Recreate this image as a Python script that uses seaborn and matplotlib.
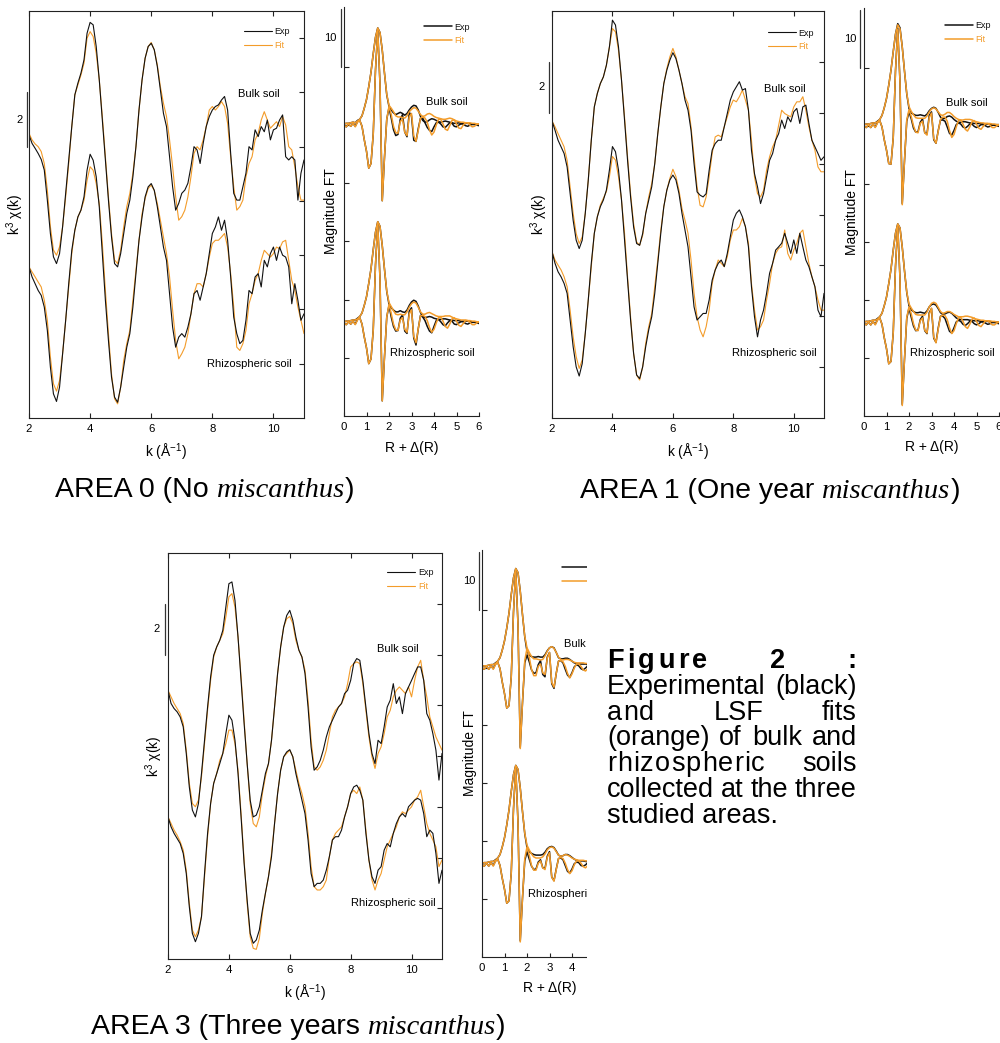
import numpy as np
import seaborn as sns
import matplotlib.pyplot as plt
import matplotlib.transforms as mtrans
from matplotlib.patches import Rectangle

k = np.round(np.arange(2.0, 11.01, 0.1), 1)
r = np.round(np.arange(0.0, 6.01, 0.1), 1)

# ---- k-space, k^3 chi(k) (one value every 0.1 A^-1, from 2 to 11) ----
a0_bulk_exp = [0.43, 0.12, -0.06, -0.25, -0.47, -0.86, -1.97, -3.20, -4.06, -4.31,
               -3.94, -2.95, -1.72, -0.49, 0.74, 1.91, 2.34, 2.71, 3.20, 4.18,
               4.58, 4.49, 3.69, 2.46, 0.98, -0.49, -1.97, -3.32, -4.31, -4.43,
               -3.94, -3.20, -2.46, -1.97, -1.11, 0.00, 1.35, 2.46, 3.26, 3.69,
               3.81, 3.57, 2.95, 2.09, 1.23, 0.74, -0.37, -1.48, -2.34, -2.09,
               -1.72, -1.60, -1.35, -0.74, 0.00, -0.12, -0.62, 0.12, 0.74, 1.11,
               1.35, 1.48, 1.54, 1.72, 1.85, 1.35, -0.25, -1.72, -1.97, -1.97,
               -1.48, -0.98, 0.00, -0.12, 0.62, 0.37, 0.74, 0.55, 0.98, 0.25,
               0.62, 0.68, 0.98, 1.17, -0.37, -0.49, -0.37, -0.49, -1.97, -0.98,
               -0.49]
a0_bulk_fit = [0.49, 0.25, 0.10, 0.00, -0.18, -0.62, -1.60, -2.95, -3.81, -4.00,
               -3.69, -2.95, -1.85, -0.62, 0.74, 1.91, 2.28, 2.64, 3.08, 4.00,
               4.24, 4.06, 3.44, 2.46, 1.11, -0.37, -1.85, -3.20, -4.18, -4.31,
               -3.81, -2.95, -2.21, -1.72, -0.98, 0.00, 1.35, 2.46, 3.26, 3.69,
               3.84, 3.57, 3.01, 2.21, 1.60, 1.11, 0.25, -0.74, -1.85, -2.71,
               -2.58, -2.34, -1.85, -1.11, -0.25, 0.00, -0.12, 0.25, 0.74, 1.35,
               1.48, 1.35, 1.48, 1.66, 1.48, 0.86, -0.37, -1.48, -2.34, -2.21,
               -1.97, -1.11, -0.62, -0.37, 0.25, 0.49, 0.98, 1.29, 0.98, 0.68,
               0.80, 0.92, 0.74, 1.11, 0.80, 0.00, -0.12, -0.74, -1.48, -1.97,
               -1.97]
a0_rhizo_exp = [0.57, 0.20, -0.05, -0.30, -0.48, -0.91, -1.77, -3.12, -4.11, -4.39,
                -3.86, -2.63, -1.40, -0.05, 1.18, 1.92, 2.41, 2.66, 3.15, 4.13,
                4.72, 4.50, 3.89, 2.78, 1.06, -0.66, -2.14, -3.49, -4.23, -4.42,
                -3.86, -3.12, -2.39, -1.89, -0.91, 0.32, 1.55, 2.41, 3.15, 3.52,
                3.64, 3.39, 2.78, 2.04, 1.30, 0.81, -0.42, -1.65, -2.39, -2.02,
                -1.89, -2.02, -1.65, -1.16, -0.42, -0.30, -0.66, -0.17, 0.32, 1.06,
                1.80, 2.04, 2.41, 1.92, 2.29, 1.55, 0.20, -1.28, -1.89, -2.26,
                -2.14, -1.40, -0.30, -0.42, 0.20, 0.32, -0.17, 0.81, 0.57, 1.06,
                1.30, 0.81, 1.30, 1.00, 0.93, 0.57, -0.79, -0.05, -0.66, -1.40,
                -1.16]
a0_rhizo_fit = [0.57, 0.38, 0.20, 0.01, -0.17, -0.66, -1.40, -2.76, -3.74, -4.01,
                -3.62, -2.63, -1.40, -0.17, 1.06, 1.92, 2.41, 2.66, 3.03, 3.76,
                4.26, 4.13, 3.64, 2.90, 1.43, -0.30, -1.89, -3.37, -4.29, -4.48,
                -3.86, -2.88, -2.26, -1.77, -0.66, 0.44, 1.55, 2.53, 3.09, 3.46,
                3.58, 3.39, 2.90, 2.29, 1.67, 1.06, 0.20, -1.03, -2.14, -2.82,
                -2.63, -2.39, -1.89, -1.16, -0.42, -0.05, -0.05, -0.17, 0.32, 0.93,
                1.43, 1.55, 1.55, 1.67, 1.80, 1.30, 0.32, -0.91, -2.39, -2.51,
                -2.26, -1.77, -0.79, -0.42, 0.07, 0.32, 0.81, 1.18, 1.06, 0.93,
                1.06, 1.30, 1.24, 1.49, 1.55, 0.81, 0.07, -0.30, -0.91, -1.40,
                -1.89]

a1_bulk_exp = [0.68, 0.31, -0.08, -0.34, -0.60, -1.13, -2.18, -3.23, -4.01, -4.34,
               -4.01, -2.96, -1.65, -0.08, 1.23, 1.76, 2.15, 2.41, 2.87, 3.59,
               4.64, 4.45, 3.59, 2.28, 0.71, -0.87, -2.31, -3.49, -4.14, -4.21,
               -3.75, -2.96, -2.44, -1.91, -1.00, 0.18, 1.23, 2.15, 2.68, 3.07,
               3.36, 3.13, 2.68, 2.15, 1.50, 1.10, 0.31, -1.00, -2.11, -2.24,
               -2.31, -2.18, -1.26, -0.47, -0.21, -0.08, -0.08, 0.45, 0.97, 1.50,
               1.82, 2.02, 2.22, 1.89, 1.95, 1.10, -0.47, -1.39, -1.91, -2.57,
               -2.18, -1.52, -0.87, -0.60, -0.08, 0.18, 0.71, 0.38, 0.84, 0.64,
               1.04, 1.17, 0.58, 1.23, 1.30, 0.58, -0.08, -0.34, -0.60, -0.87,
               -0.73]
a1_bulk_fit = [0.68, 0.45, 0.18, -0.08, -0.34, -0.87, -1.92, -2.96, -3.75, -4.14,
               -3.88, -2.96, -1.65, -0.08, 1.23, 1.76, 2.15, 2.41, 2.87, 3.59,
               4.31, 4.18, 3.46, 2.28, 0.84, -0.73, -2.18, -3.36, -4.08, -4.21,
               -3.82, -2.96, -2.31, -1.78, -1.00, 0.18, 1.23, 2.15, 2.74, 3.20,
               3.53, 3.20, 2.68, 2.15, 1.63, 1.36, 0.45, -0.73, -1.91, -2.64,
               -2.70, -2.31, -1.52, -0.60, 0.05, 0.12, 0.05, 0.45, 0.84, 1.23,
               1.50, 1.43, 1.63, 1.89, 1.50, 1.10, -0.08, -1.52, -2.18, -2.31,
               -2.05, -1.26, -0.73, -0.34, -0.08, 0.51, 1.10, 0.97, 0.90, 0.84,
               1.23, 1.43, 1.43, 1.63, 1.10, 0.45, -0.08, -0.47, -1.13, -1.32,
               -1.32]
a1_rhizo_exp = [0.54, 0.08, -0.25, -0.45, -0.71, -1.10, -2.15, -3.20, -3.99, -4.35,
                -3.86, -2.68, -1.36, 0.08, 1.26, 1.91, 2.31, 2.57, 2.96, 3.75,
                4.67, 4.47, 3.75, 2.57, 1.00, -0.58, -2.15, -3.46, -4.31, -4.45,
                -3.99, -3.20, -2.54, -2.02, -1.10, 0.08, 1.26, 2.31, 2.96, 3.36,
                3.55, 3.36, 2.83, 2.05, 1.39, 0.73, -0.45, -1.63, -2.15, -2.02,
                -1.89, -1.89, -1.36, -0.58, -0.18, 0.08, 0.21, -0.05, 0.47, 1.13,
                1.78, 2.05, 2.18, 1.91, 1.52, 0.73, -0.84, -2.02, -2.81, -2.15,
                -1.76, -1.10, -0.31, 0.08, 0.60, 0.73, 0.87, 1.26, 0.87, 0.47,
                1.00, 0.47, 1.26, 0.73, 0.21, -0.05, -0.45, -0.84, -1.76, -2.02,
                -1.10]
a1_rhizo_fit = [0.54, 0.21, 0.01, -0.18, -0.45, -0.84, -1.76, -2.81, -3.59, -4.05,
                -3.72, -2.68, -1.36, -0.05, 1.26, 1.91, 2.37, 2.64, 2.90, 3.49,
                4.28, 4.14, 3.49, 2.57, 1.26, -0.45, -2.02, -3.46, -4.31, -4.51,
                -3.99, -3.07, -2.41, -1.89, -0.84, 0.21, 1.39, 2.31, 2.96, 3.42,
                3.78, 3.49, 2.96, 2.24, 1.78, 1.26, 0.21, -1.10, -2.02, -2.54,
                -2.81, -2.41, -1.76, -0.71, -0.18, 0.21, 0.08, -0.05, 0.34, 1.00,
                1.39, 1.39, 1.52, 1.85, 1.52, 0.87, -0.71, -1.76, -2.54, -2.41,
                -2.15, -1.36, -0.71, 0.08, 0.47, 0.67, 0.73, 1.39, 0.47, 0.21,
                0.60, 0.87, 1.26, 1.39, 0.73, 0.08, -0.45, -0.84, -1.36, -1.76,
                -1.76]

a3_bulk_exp = [0.59, 0.07, -0.13, -0.26, -0.46, -0.85, -1.90, -3.22, -4.13, -4.40,
               -3.87, -2.69, -1.38, -0.07, 1.12, 1.97, 2.30, 2.56, 2.95, 3.87,
               4.79, 4.86, 4.13, 2.69, 0.98, -0.72, -2.30, -3.74, -4.40, -4.33,
               -4.00, -3.35, -2.69, -2.30, -1.38, -0.07, 1.25, 2.30, 3.08, 3.54,
               3.74, 3.35, 2.69, 2.17, 1.90, 1.25, -0.07, -1.64, -2.56, -2.43,
               -2.17, -1.77, -1.25, -0.85, -0.59, -0.33, -0.07, 0.07, 0.46, 0.59,
               0.98, 1.64, 1.84, 1.77, 0.98, -0.07, -1.12, -1.90, -2.30, -1.38,
               -1.51, -0.85, -0.07, 0.20, 0.85, 0.07, 0.33, -0.33, 0.46, 0.72,
               0.98, 1.25, 1.51, 1.51, 0.98, -0.33, -0.59, -1.12, -1.77, -2.95,
               -1.90]
a3_bulk_fit = [0.59, 0.33, 0.07, -0.13, -0.33, -0.72, -1.77, -3.08, -3.87, -4.00,
               -3.74, -2.82, -1.51, -0.20, 0.98, 1.90, 2.30, 2.56, 2.82, 3.48,
               4.27, 4.40, 3.87, 2.69, 1.12, -0.59, -2.30, -3.87, -4.66, -4.79,
               -4.40, -3.48, -2.82, -2.30, -1.38, -0.07, 1.25, 2.30, 3.08, 3.41,
               3.50, 3.22, 2.56, 2.17, 1.90, 1.38, 0.20, -1.38, -2.43, -2.56,
               -2.43, -2.17, -1.77, -1.12, -0.46, -0.20, -0.07, 0.07, 0.33, 0.85,
               1.51, 1.64, 1.71, 1.64, 0.85, -0.20, -1.25, -2.03, -2.49, -1.90,
               -1.64, -1.12, -0.46, -0.20, 0.33, 0.59, 0.72, 0.59, 0.46, 0.72,
               0.33, 0.98, 1.51, 1.77, 0.98, 0.33, -0.46, -0.85, -1.25, -1.51,
               -1.77]
a3_rhizo_exp = [0.60, 0.21, -0.05, -0.25, -0.45, -0.84, -1.63, -2.94, -3.99, -4.32,
                -3.99, -3.33, -1.63, -0.05, 1.13, 1.92, 2.31, 2.70, 3.10, 3.88,
                4.61, 4.41, 3.62, 2.31, 0.60, -1.23, -2.68, -3.99, -4.38, -4.25,
                -3.86, -3.07, -2.41, -1.76, -0.97, 0.34, 1.52, 2.44, 2.97, 3.16,
                3.25, 2.97, 2.31, 1.78, 1.26, 0.73, -0.31, -1.63, -2.15, -2.02,
                -2.02, -1.89, -1.50, -0.97, -0.31, -0.18, -0.18, 0.08, 0.60, 1.00,
                1.52, 1.78, 1.85, 1.65, 1.26, -0.05, -1.10, -1.76, -2.02, -1.50,
                -1.36, -0.71, -0.45, -0.58, -0.05, 0.34, 0.60, 0.73, 0.60, 1.00,
                1.13, 1.26, 1.33, 1.26, 0.73, -0.18, 0.08, -0.05, -0.84, -2.02,
                -1.50]
a3_rhizo_fit = [0.60, 0.34, 0.08, -0.12, -0.38, -0.71, -1.50, -2.81, -3.86, -4.12,
                -3.86, -3.33, -1.76, -0.18, 1.13, 1.92, 2.31, 2.83, 3.10, 3.49,
                4.02, 4.02, 3.49, 2.44, 0.73, -1.10, -2.81, -4.12, -4.58, -4.62,
                -4.19, -3.20, -2.41, -1.76, -0.84, 0.34, 1.52, 2.44, 2.97, 3.10,
                3.23, 2.97, 2.44, 1.92, 1.52, 1.00, -0.05, -1.36, -2.15, -2.28,
                -2.28, -2.15, -1.89, -0.97, -0.31, -0.05, 0.08, 0.21, 0.60, 1.00,
                1.52, 1.65, 1.52, 1.78, 1.26, 0.08, -1.10, -1.89, -2.28, -1.89,
                -1.63, -1.10, -0.58, -0.31, -0.05, 0.21, 0.60, 0.80, 0.73, 0.87,
                1.00, 1.26, 1.39, 1.65, 1.00, 0.34, -0.05, -0.31, -0.58, -1.36,
                -1.10]

# ---- R-space, Fourier transform: magnitude and imaginary part (every 0.1 A) ----
a0_bulk_mag_exp = [0.2, 0.3, 0.3, 0.4, 0.5, 0.4, 0.8, 1.0, 1.6, 2.9,
                   4.4, 6.6, 9.1, 12.3, 15.1, 16.7, 15.9, 12.9, 8.9, 5.2,
                   3.2, 2.6, 2.1, 1.8, 2.0, 2.2, 2.0, 1.7, 2.0, 2.6,
                   3.1, 3.4, 3.3, 2.6, 1.5, 0.8, 0.5, 0.6, 0.9, 1.1,
                   1.0, 0.8, 0.6, 0.5, 0.6, 0.7, 0.6, 0.5, 0.4, 0.3,
                   0.3, 0.4, 0.3, 0.2, 0.3, 0.3, 0.2, 0.2, 0.2, 0.1,
                   0.1]
a0_bulk_mag_fit = [0.2, 0.3, 0.3, 0.4, 0.5, 0.4, 0.7, 1.0, 1.6, 2.9,
                   4.4, 6.6, 9.1, 12.3, 15.1, 16.7, 15.9, 12.9, 8.9, 5.3,
                   3.4, 2.9, 2.3, 1.6, 1.4, 1.4, 1.3, 1.2, 1.6, 2.3,
                   2.7, 3.0, 2.9, 2.4, 1.8, 1.5, 1.6, 1.9, 2.0, 1.8,
                   1.5, 1.3, 1.2, 1.1, 1.0, 1.0, 1.1, 1.2, 1.1, 0.9,
                   0.7, 0.6, 0.5, 0.5, 0.4, 0.4, 0.4, 0.3, 0.3, 0.2,
                   0.2]
a0_bulk_im_exp = [0.0, -0.3, 0.2, -0.2, 0.3, -0.2, 0.6, 0.8, -0.2, -2.5,
                  -4.5, -7.4, -6.6, -1.5, 9.5, 16.3, 7.0, -13.0, -5.5, 1.0,
                  3.0, 1.2, -0.8, -1.8, -1.6, 1.0, 1.8, -1.2, -2.0, 2.2,
                  1.6, -2.6, -2.8, -0.6, 1.2, 1.2, 0.4, -0.4, -0.9, -1.1,
                  -0.3, 0.4, 0.5, 0.2, -0.3, -0.4, 0.0, 0.4, 0.3, -0.2,
                  -0.3, 0.0, 0.2, 0.2, -0.1, -0.2, 0.0, 0.1, 0.1, 0.0,
                  -0.1]
a0_bulk_im_fit = [0.0, -0.3, 0.2, -0.2, 0.3, -0.3, 0.5, 0.8, -0.2, -2.5,
                  -4.5, -7.4, -6.6, -1.5, 9.5, 16.3, 7.0, -13.0, -5.5, 1.0,
                  3.2, 1.8, -0.2, -1.3, -1.4, 0.6, 1.0, -1.2, -1.8, 1.4,
                  2.0, -1.8, -2.8, -0.9, 1.2, 1.4, 1.2, 0.5, -0.8, -1.7,
                  -1.2, 0.0, 1.0, 1.0, 0.2, -0.7, -0.9, -0.1, 0.8, 0.9,
                  0.2, -0.5, -0.6, 0.0, 0.4, 0.4, 0.0, -0.3, -0.2, 0.1,
                  0.2]
a0_rhizo_mag_exp = [0.2, 0.3, 0.3, 0.4, 0.5, 0.5, 0.8, 1.1, 1.7, 3.0,
                    4.5, 6.8, 9.3, 12.6, 15.6, 17.4, 16.6, 13.3, 9.2, 5.4,
                    3.2, 2.6, 2.2, 1.9, 1.9, 2.1, 1.9, 1.8, 2.2, 3.0,
                    3.6, 3.9, 3.7, 2.9, 1.8, 1.1, 0.9, 1.0, 1.1, 1.0,
                    0.8, 0.7, 0.6, 0.6, 0.7, 0.7, 0.6, 0.5, 0.5, 0.4,
                    0.4, 0.4, 0.3, 0.3, 0.3, 0.3, 0.2, 0.2, 0.2, 0.2,
                    0.1]
a0_rhizo_mag_fit = [0.2, 0.3, 0.3, 0.4, 0.5, 0.5, 0.7, 1.1, 1.7, 3.0,
                    4.5, 6.8, 9.3, 12.6, 15.6, 17.4, 16.6, 13.3, 9.2, 5.5,
                    3.5, 2.8, 2.1, 1.5, 1.4, 1.5, 1.4, 1.4, 1.9, 2.7,
                    3.3, 3.6, 3.4, 2.7, 1.9, 1.5, 1.5, 1.7, 1.8, 1.6,
                    1.4, 1.2, 1.1, 1.1, 1.1, 1.2, 1.2, 1.2, 1.0, 0.8,
                    0.7, 0.6, 0.5, 0.5, 0.5, 0.4, 0.4, 0.3, 0.3, 0.2,
                    0.2]
a0_rhizo_im_exp = [0.0, -0.3, 0.2, -0.2, 0.3, -0.2, 0.6, 0.9, -0.2, -2.4,
                   -4.3, -7.0, -6.2, -1.2, 10.0, 17.0, 7.5, -13.4, -5.8, 1.0,
                   3.0, 1.0, -0.6, -1.4, -1.3, 0.8, 1.4, -1.4, -1.8, 2.0,
                   2.6, -2.6, -3.8, -1.0, 1.3, 1.0, 0.4, -0.6, -1.4, -1.7,
                   -0.6, 0.4, 0.6, 0.2, -0.3, -0.5, 0.0, 0.4, 0.3, -0.2,
                   -0.3, 0.0, 0.2, 0.2, -0.1, -0.2, 0.0, 0.1, 0.1, 0.0,
                   -0.1]
a0_rhizo_im_fit = [0.0, -0.3, 0.2, -0.2, 0.3, -0.3, 0.5, 0.9, -0.2, -2.4,
                   -4.3, -7.0, -6.2, -1.2, 10.0, 17.0, 7.5, -13.4, -5.8, 1.0,
                   3.2, 1.6, -0.2, -1.2, -1.3, 0.5, 0.9, -1.1, -1.6, 1.5,
                   2.3, -2.3, -3.4, -1.0, 1.2, 1.3, 1.1, 0.4, -0.8, -1.6,
                   -1.1, 0.0, 0.9, 1.0, 0.3, -0.6, -0.9, -0.2, 0.7, 0.9,
                   0.3, -0.4, -0.6, -0.1, 0.4, 0.4, 0.1, -0.3, -0.3, 0.0,
                   0.2]

a1_bulk_mag_exp = [0.2, 0.3, 0.3, 0.4, 0.5, 0.5, 0.8, 1.1, 1.8, 3.1,
                   4.7, 7.0, 9.6, 12.8, 15.8, 17.6, 16.9, 13.6, 9.4, 5.5,
                   3.0, 2.2, 2.0, 1.8, 1.8, 1.9, 1.8, 1.7, 2.0, 2.6,
                   3.0, 3.2, 3.0, 2.3, 1.5, 1.2, 1.3, 1.6, 1.7, 1.5,
                   1.1, 0.8, 0.6, 0.6, 0.7, 0.7, 0.6, 0.5, 0.5, 0.4,
                   0.4, 0.4, 0.4, 0.3, 0.3, 0.3, 0.3, 0.2, 0.2, 0.2,
                   0.2]
a1_bulk_mag_fit = [0.2, 0.3, 0.3, 0.4, 0.5, 0.5, 0.7, 1.1, 1.8, 3.1,
                   4.7, 7.0, 9.6, 12.8, 15.8, 17.4, 16.7, 13.6, 9.4, 5.6,
                   3.3, 2.5, 1.9, 1.4, 1.3, 1.3, 1.3, 1.3, 1.7, 2.4,
                   2.9, 3.1, 2.9, 2.4, 1.9, 1.8, 2.0, 2.3, 2.3, 2.0,
                   1.6, 1.3, 1.1, 1.0, 1.0, 1.1, 1.1, 1.1, 1.0, 0.8,
                   0.7, 0.6, 0.5, 0.5, 0.4, 0.4, 0.4, 0.3, 0.3, 0.2,
                   0.2]
a1_bulk_im_exp = [0.0, -0.3, 0.2, -0.3, 0.3, -0.2, 0.6, 0.9, -0.2, -2.4,
                  -4.2, -6.5, -6.6, -2.0, 9.5, 16.8, 7.5, -13.4, -6.0, 0.8,
                  2.4, 1.2, -0.4, -1.1, -1.0, 0.6, 1.2, -1.2, -1.4, 1.8,
                  2.4, -2.4, -3.0, -0.8, 1.0, 1.0, 0.8, -0.2, -1.3, -1.6,
                  -0.8, 0.2, 0.5, 0.3, -0.2, -0.4, -0.1, 0.3, 0.3, -0.1,
                  -0.3, -0.1, 0.2, 0.2, 0.0, -0.2, -0.1, 0.1, 0.1, 0.0,
                  -0.1]
a1_bulk_im_fit = [0.0, -0.3, 0.2, -0.3, 0.3, -0.3, 0.5, 0.9, -0.2, -2.4,
                  -4.2, -6.5, -6.6, -2.0, 9.5, 16.6, 7.5, -13.6, -6.0, 1.0,
                  2.8, 1.6, 0.0, -1.1, -1.2, 0.4, 0.8, -1.2, -1.6, 1.4,
                  2.2, -2.2, -3.0, -0.9, 1.1, 1.5, 1.5, 0.8, -0.8, -2.0,
                  -1.5, -0.2, 0.9, 1.0, 0.3, -0.6, -0.9, -0.2, 0.7, 0.9,
                  0.3, -0.4, -0.6, -0.1, 0.4, 0.4, 0.1, -0.3, -0.3, 0.0,
                  0.2]
a1_rhizo_mag_exp = [0.2, 0.3, 0.3, 0.4, 0.5, 0.5, 0.8, 1.1, 1.7, 3.0,
                    4.5, 6.8, 9.3, 12.6, 15.5, 17.1, 16.4, 13.1, 9.0, 5.3,
                    3.0, 2.3, 2.0, 1.8, 1.8, 1.9, 1.8, 1.7, 2.1, 2.8,
                    3.2, 3.3, 3.1, 2.5, 1.8, 1.5, 1.6, 1.8, 1.9, 1.7,
                    1.3, 0.9, 0.7, 0.6, 0.6, 0.6, 0.6, 0.5, 0.5, 0.4,
                    0.4, 0.4, 0.3, 0.3, 0.3, 0.3, 0.2, 0.2, 0.2, 0.2,
                    0.2]
a1_rhizo_mag_fit = [0.2, 0.3, 0.3, 0.4, 0.5, 0.5, 0.7, 1.1, 1.7, 3.0,
                    4.5, 6.8, 9.3, 12.6, 15.5, 17.1, 16.4, 13.1, 9.0, 5.4,
                    3.3, 2.6, 2.0, 1.5, 1.4, 1.4, 1.4, 1.4, 1.9, 2.8,
                    3.4, 3.6, 3.4, 2.7, 2.0, 1.7, 1.8, 2.0, 2.0, 1.8,
                    1.5, 1.3, 1.1, 1.1, 1.1, 1.2, 1.2, 1.1, 1.0, 0.8,
                    0.7, 0.6, 0.5, 0.5, 0.4, 0.4, 0.4, 0.3, 0.3, 0.2,
                    0.2]
a1_rhizo_im_exp = [0.0, -0.3, 0.2, -0.3, 0.3, -0.2, 0.6, 0.9, -0.2, -2.5,
                   -4.4, -7.0, -6.6, -1.6, 9.8, 16.8, 7.6, -14.0, -6.2, 0.8,
                   2.6, 1.0, -0.5, -1.3, -1.2, 0.6, 1.2, -1.3, -1.8, 1.8,
                   2.5, -2.6, -3.3, -0.8, 1.2, 1.2, 0.8, -0.3, -1.4, -1.7,
                   -0.8, 0.2, 0.5, 0.3, -0.2, -0.4, -0.1, 0.3, 0.3, -0.1,
                   -0.3, -0.1, 0.2, 0.2, 0.0, -0.2, -0.1, 0.1, 0.1, 0.0,
                   -0.1]
a1_rhizo_im_fit = [0.0, -0.3, 0.2, -0.3, 0.3, -0.3, 0.5, 0.9, -0.2, -2.5,
                   -4.4, -7.0, -6.6, -1.6, 9.8, 16.8, 7.6, -14.2, -6.2, 1.0,
                   2.8, 1.6, -0.1, -1.2, -1.3, 0.4, 0.9, -1.2, -1.7, 1.5,
                   2.6, -2.4, -3.4, -1.0, 1.1, 1.4, 1.3, 0.6, -0.8, -1.8,
                   -1.3, -0.1, 0.9, 1.0, 0.3, -0.6, -0.9, -0.2, 0.7, 0.9,
                   0.3, -0.4, -0.6, -0.1, 0.4, 0.4, 0.1, -0.3, -0.3, 0.0,
                   0.2]

a3_bulk_mag_exp = [0.2, 0.3, 0.3, 0.4, 0.5, 0.5, 0.8, 1.1, 1.7, 3.0,
                   4.6, 6.8, 9.4, 12.6, 15.5, 17.1, 16.4, 13.2, 9.1, 5.3,
                   2.8, 2.1, 1.9, 1.8, 1.8, 1.9, 1.8, 1.8, 2.2, 2.9,
                   3.4, 3.6, 3.4, 2.6, 1.7, 1.5, 1.5, 1.6, 1.6, 1.4,
                   1.1, 0.8, 0.7, 0.6, 0.6, 0.6, 0.6, 0.5, 0.5, 0.4,
                   0.4, 0.4, 0.3, 0.3, 0.3, 0.3, 0.2, 0.2, 0.2, 0.2,
                   0.2]
a3_bulk_mag_fit = [0.2, 0.3, 0.3, 0.4, 0.5, 0.5, 0.7, 1.1, 1.7, 3.0,
                   4.6, 6.8, 9.4, 12.6, 15.5, 17.1, 16.4, 13.2, 9.1, 5.4,
                   3.4, 2.6, 1.9, 1.5, 1.5, 1.4, 1.3, 1.4, 2.0, 2.8,
                   3.4, 3.6, 3.3, 2.6, 1.8, 1.4, 1.3, 1.4, 1.4, 1.3,
                   1.1, 0.9, 0.8, 0.8, 0.8, 0.8, 0.7, 0.7, 0.6, 0.5,
                   0.5, 0.4, 0.4, 0.4, 0.3, 0.3, 0.3, 0.2, 0.2, 0.2,
                   0.2]
a3_bulk_im_exp = [0.0, -0.3, 0.2, -0.3, 0.3, -0.2, 0.6, 0.9, -0.2, -2.5,
                  -4.5, -7.0, -6.6, -1.6, 9.6, 16.8, 7.4, -13.8, -6.0, 0.8,
                  2.2, 1.0, -0.4, -1.0, -0.9, 0.5, 1.2, -1.2, -1.6, 1.8,
                  2.6, -2.8, -3.6, -1.0, 1.1, 1.2, 0.8, -0.3, -1.3, -1.7,
                  -0.9, 0.1, 0.5, 0.3, -0.2, -0.4, -0.1, 0.3, 0.3, -0.1,
                  -0.3, -0.1, 0.2, 0.2, 0.0, -0.2, -0.1, 0.1, 0.1, 0.0,
                  -0.1]
a3_bulk_im_fit = [0.0, -0.3, 0.2, -0.3, 0.3, -0.3, 0.5, 0.9, -0.2, -2.5,
                  -4.5, -7.0, -6.6, -1.6, 9.6, 16.8, 7.4, -14.0, -6.0, 1.2,
                  3.3, 1.8, -0.3, -1.4, -1.4, 0.2, 0.6, -0.9, -1.2, 1.6,
                  2.6, -2.6, -3.4, -1.0, 1.1, 1.2, 1.0, 0.2, -1.0, -1.8,
                  -1.1, -0.1, 0.6, 0.6, 0.2, -0.4, -0.6, -0.2, 0.4, 0.5,
                  0.2, -0.3, -0.4, -0.1, 0.3, 0.3, 0.1, -0.2, -0.2, 0.0,
                  0.1]
a3_rhizo_mag_exp = [0.2, 0.3, 0.3, 0.4, 0.5, 0.5, 0.8, 1.1, 1.7, 3.0,
                    4.6, 6.8, 9.4, 12.6, 15.5, 17.1, 16.4, 13.2, 9.1, 5.3,
                    2.9, 2.2, 1.9, 1.7, 1.6, 1.6, 1.6, 1.7, 2.1, 2.7,
                    3.0, 3.1, 2.9, 2.3, 1.6, 1.4, 1.5, 1.7, 1.7, 1.5,
                    1.2, 0.9, 0.7, 0.6, 0.6, 0.6, 0.5, 0.5, 0.4, 0.4,
                    0.4, 0.3, 0.3, 0.3, 0.3, 0.2, 0.2, 0.2, 0.2, 0.2,
                    0.2]
a3_rhizo_mag_fit = [0.2, 0.3, 0.3, 0.4, 0.5, 0.5, 0.7, 1.1, 1.7, 3.0,
                    4.6, 6.8, 9.4, 12.6, 15.5, 17.1, 16.4, 13.2, 9.1, 5.4,
                    3.3, 2.5, 1.8, 1.3, 1.1, 1.1, 1.1, 1.3, 1.8, 2.5,
                    2.9, 3.0, 2.8, 2.2, 1.6, 1.4, 1.5, 1.7, 1.6, 1.4,
                    1.1, 0.9, 0.8, 0.7, 0.7, 0.7, 0.6, 0.6, 0.5, 0.5,
                    0.4, 0.4, 0.4, 0.3, 0.3, 0.3, 0.2, 0.2, 0.2, 0.2,
                    0.2]
a3_rhizo_im_exp = [0.0, -0.3, 0.2, -0.3, 0.3, -0.2, 0.6, 0.9, -0.2, -2.4,
                   -4.3, -6.7, -6.3, -1.5, 9.6, 16.8, 7.2, -13.2, -5.8, 0.6,
                   2.2, 0.9, -0.3, -0.9, -0.8, 0.4, 0.8, -0.6, -0.7, 1.4,
                   2.2, -2.2, -2.8, -0.8, 1.0, 1.1, 0.8, -0.2, -1.2, -1.5,
                   -0.8, 0.1, 0.4, 0.3, -0.2, -0.3, -0.1, 0.3, 0.2, -0.1,
                   -0.2, -0.1, 0.2, 0.1, 0.0, -0.1, -0.1, 0.1, 0.1, 0.0,
                   -0.1]
a3_rhizo_im_fit = [0.0, -0.3, 0.2, -0.3, 0.3, -0.3, 0.5, 0.9, -0.2, -2.4,
                   -4.3, -6.7, -6.3, -1.5, 9.6, 16.8, 7.2, -13.4, -5.8, 1.0,
                   3.0, 1.6, -0.2, -1.0, -1.0, 0.2, 0.6, -0.6, -0.9, 1.2,
                   2.0, -2.2, -2.9, -0.9, 1.0, 1.2, 1.0, 0.2, -0.9, -1.6,
                   -1.1, -0.1, 0.6, 0.6, 0.2, -0.4, -0.6, -0.2, 0.4, 0.5,
                   0.2, -0.3, -0.4, -0.1, 0.3, 0.3, 0.1, -0.2, -0.2, 0.0,
                   0.1]

EXP = '#111111'
FIT = '#f39c2a'
W, H = 1000, 1043

sns.set_theme(style='ticks')
plt.rcParams['font.family'] = ['Liberation Sans', 'DejaVu Sans']
plt.rcParams['mathtext.fontset'] = 'custom'
plt.rcParams['mathtext.rm'] = 'Liberation Sans'
plt.rcParams['mathtext.it'] = 'Liberation Sans:italic'
plt.rcParams['axes.linewidth'] = 0.8
plt.rcParams['axes.edgecolor'] = '#222222'
plt.rcParams['text.color'] = 'black'
plt.rcParams['axes.labelcolor'] = 'black'

fig = plt.figure(figsize=(W / 100, H / 100), dpi=100)


def box(left, top, right, bottom):
    return [left / W, 1 - bottom / H, (right - left) / W, (bottom - top) / H]


def scale_bar(ax, xb, y0, y1, xl, label):
    tr = mtrans.blended_transform_factory(ax.transAxes, ax.transData)
    ax.plot([xb, xb], [y0, y1], color='#333333', lw=0.9, transform=tr, clip_on=False)
    ax.text(xl, (y0 + y1) / 2, label, transform=tr, ha='center', va='center', fontsize=8)


def legend(ax, h_exp, h_fit, xy):
    ax.legend([h_exp, h_fit], ['Exp', 'Fit'], loc='upper left', bbox_to_anchor=xy,
              frameon=False, fontsize=6.5, handlelength=3.1, handletextpad=0.3,
              labelspacing=0.5, borderpad=0, borderaxespad=0, labelcolor='linecolor')


def kpanel(pos, ylim, offs, bulk, rhizo, bar, txt, leg_xy, ylab_x):
    ax = fig.add_axes(box(*pos))
    for (exp, fit), off in zip((bulk, rhizo), offs):
        sns.lineplot(x=k, y=np.asarray(fit) + off, color=FIT, linewidth=0.8,
                     estimator=None, sort=False, ax=ax)
        sns.lineplot(x=k, y=np.asarray(exp) + off, color=EXP, linewidth=0.8,
                     estimator=None, sort=False, ax=ax)
    legend(ax, ax.lines[1], ax.lines[0], leg_xy)
    ax.set_xlim(2, 11)
    ax.set_ylim(*ylim)
    ax.set_xticks([2, 4, 6, 8, 10])
    ax.set_yticks(np.arange(0, -13, -2))
    ax.tick_params(axis='x', direction='in', top=True, bottom=True, length=3.5,
                   width=0.8, labelsize=8.2, pad=4.5, color='#222222', labelcolor='black')
    ax.tick_params(axis='y', direction='in', left=False, right=True, labelleft=False,
                   length=3.5, width=0.8, color='#222222')
    ax.set_xlabel('k (Å$^{-1}$)', fontsize=10)
    ax.set_ylabel('k$^3$ χ(k)', fontsize=10)
    ax.xaxis.set_label_coords(0.5, -0.058)
    ax.yaxis.set_label_coords(ylab_x, 0.5)
    scale_bar(ax, *bar)
    ax.text(*txt[0], 'Bulk soil', fontsize=8, ha='left', va='center')
    ax.text(*txt[1], 'Rhizospheric soil', fontsize=8, ha='left', va='center')
    return ax


def rpanel(pos, bulk, rhizo, bar, leg_xy, ylab_x):
    ax = fig.add_axes(box(*pos))
    for curves, off in zip((bulk, rhizo), (-10, -44)):
        mag_e, mag_f, im_e, im_f = curves
        for vals, col in ((mag_e, EXP), (im_e, EXP), (mag_f, FIT), (im_f, FIT)):
            sns.lineplot(x=r, y=np.asarray(vals) + off, color=col, linewidth=1.1,
                         estimator=None, sort=False, ax=ax)
    legend(ax, ax.lines[0], ax.lines[2], leg_xy)
    sns.despine(ax=ax)
    ax.set_xlim(0, 6)
    ax.set_ylim(-60, 10.3)
    ax.set_xticks(range(7))
    ax.set_yticks([0, -10, -20, -30, -40, -50])
    ax.tick_params(axis='x', direction='in', length=3, width=0.8, labelsize=8.2,
                   pad=4.5, color='#222222', labelcolor='black')
    ax.tick_params(axis='y', direction='in', left=True, labelleft=False, length=3.5,
                   width=0.8, color='#222222')
    ax.set_xlabel('R + Δ(R)', fontsize=10)
    ax.set_ylabel('Magnitude FT', fontsize=10)
    ax.xaxis.set_label_coords(0.5, -0.06)
    ax.yaxis.set_label_coords(ylab_x, 0.5)
    scale_bar(ax, *bar)
    ax.text(3.65, -6, 'Bulk soil', fontsize=8, ha='left', va='center')
    ax.text(2.05, -49.2, 'Rhizospheric soil', fontsize=8, ha='left', va='center')
    return ax


# AREA 0
kpanel((29, 11, 304, 418), (-14, 1), (-4, -9), (a0_bulk_exp, a0_bulk_fit),
       (a0_rhizo_exp, a0_rhizo_fit), (-0.0085, -4, -2, -0.033, '2'),
       ((8.84, -2.06), (7.83, -12.0)), (0.782, 0.96), -0.012)
rpanel((344, 7, 479, 416),
       (a0_bulk_mag_exp, a0_bulk_mag_fit, a0_bulk_im_exp, a0_bulk_im_fit),
       (a0_rhizo_mag_exp, a0_rhizo_mag_fit, a0_rhizo_im_exp, a0_rhizo_im_fit),
       (-0.024, 0, 10, -0.104, '10'), (0.593, 0.962), -0.044)

# AREA 1
kpanel((552, 11, 824, 418), (-14, 2), (-3, -8), (a1_bulk_exp, a1_bulk_fit),
       (a1_rhizo_exp, a1_rhizo_fit), (-0.011, -2, 0, -0.037, '2'),
       ((9.02, -1.07), (7.96, -11.44)), (0.794, 0.957), -0.006)
rpanel((864, 8, 999, 416),
       (a1_bulk_mag_exp, a1_bulk_mag_fit, a1_bulk_im_exp, a1_bulk_im_fit),
       (a1_rhizo_mag_exp, a1_rhizo_mag_fit, a1_rhizo_im_exp, a1_rhizo_im_fit),
       (-0.03, 0, 10, -0.104, '10'), (0.60, 0.967), -0.037)

# AREA 3
kpanel((168, 553, 442, 959), (-14, 2), (-4, -9), (a3_bulk_exp, a3_bulk_fit),
       (a3_rhizo_exp, a3_rhizo_fit), (-0.011, -2, 0, -0.040, '2'),
       ((8.88, -1.78), (8.02, -11.78)), (0.80, 0.962), -0.011)
rpanel((482, 550, 617, 957),
       (a3_bulk_mag_exp, a3_bulk_mag_fit, a3_bulk_im_exp, a3_bulk_im_fit),
       (a3_rhizo_mag_exp, a3_rhizo_mag_fit, a3_rhizo_im_exp, a3_rhizo_im_fit),
       (-0.022, 0, 10, -0.096, '10'), (0.593, 0.967), -0.037)

# the third FT panel is cut off on its right side in the original page
fig.add_artist(Rectangle((587 / W, 1 - 1012 / H), 40 / W, 475 / H,
                         transform=fig.transFigure, facecolor='white',
                         edgecolor='none', zorder=5))

renderer = fig.canvas.get_renderer()
SANS = dict(family=['Liberation Sans', 'DejaVu Sans'])
SERIF_IT = dict(family=['Liberation Serif', 'DejaVu Serif'], style='italic')


def measure(s, **kw):
    t = fig.text(0, 0, s, **kw)
    w = t.get_window_extent(renderer=renderer).width
    t.remove()
    return w


def put(x, y, s, **kw):
    fig.text(x / W, 1 - y / H, s, ha='left', va='baseline', zorder=10, color='black', **kw)


def rich_line(x, y, parts, size):
    space = measure('a a', fontsize=size, **SANS) - measure('aa', fontsize=size, **SANS)
    for s, props in parts:
        if s == ' ':
            x += space
            continue
        put(x, y, s, fontsize=size, **props)
        x += measure(s, fontsize=size, **props)


for x0, y0, head in ((55, 497, 'AREA 0 (No'), (580, 498, 'AREA 1 (One year'),
                     (91, 1034, 'AREA 3 (Three years')):
    rich_line(x0, y0, [(head, SANS), (' ', None), ('miscanthus', SERIF_IT), (')', SANS)], 20.5)

# caption, justified between x=607 and x=857
CAP = 19.5
X0, X1 = 607, 857


def word_width(w, track, **kw):
    if track == 0:
        return measure(w, **kw)
    return sum(measure(c, **kw) for c in w) + track * (len(w) - 1)


def put_word(x, y, w, track, **kw):
    if track == 0:
        put(x, y, w, **kw)
        return
    for c in w:
        put(x, y, c, **kw)
        x += measure(c, **kw) + track


def justified(y, words, bold=False):
    kw = dict(fontsize=CAP, fontweight='bold' if bold else 'normal', **SANS)
    widths = [word_width(w, t, **kw) for w, t in words]
    gap = (X1 - X0 - sum(widths)) / (len(words) - 1)
    x = X0
    for (w, t), wd in zip(words, widths):
        put_word(x, y, w, t, **kw)
        x += wd + gap


caption = [
    ([('Figure', 3.4), ('2', 0), (':', 0)], True),
    ([('Experimental', 0), ('(black)', 0)], False),
    ([('and', 1.0), ('LSF', 0), ('fits', 0)], False),
    ([('(orange)', 0), ('of', 0), ('bulk', 0), ('and', 0)], False),
    ([('rhizospheric', 1.0), ('soils', 0)], False),
    ([('collected', 0), ('at', 0), ('the', 0), ('three', 0)], False),
]
base = 668
for i, (words, bold) in enumerate(caption):
    justified(base + 25.8 * i, words, bold)
put(X0, base + 25.8 * 6, 'studied areas.', fontsize=CAP, **SANS)

fig.savefig('out.png', dpi=100, facecolor='white')
